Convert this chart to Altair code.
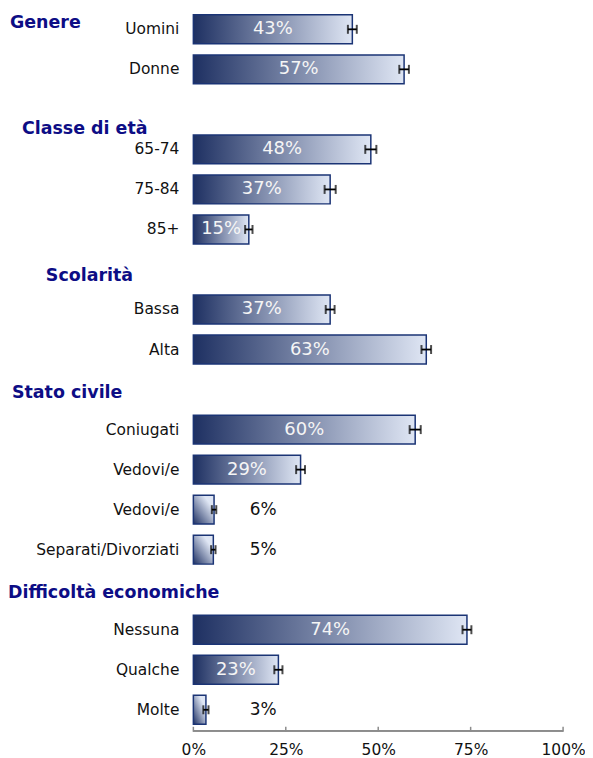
import altair as alt
import pandas as pd

# ---- data ----
groups = ["Genere", "Classe di età", "Scolarità", "Stato civile", "Difficoltà economiche"]
group_of = [0, 0, 1, 1, 1, 2, 2, 3, 3, 3, 3, 4, 4, 4]
categories = ["Uomini", "Donne", "65-74", "75-84", "85+", "Bassa", "Alta",
              "Coniugati", "Vedovi/e", "Vedovi/e", "Separati/Divorziati",
              "Nessuna", "Qualche", "Molte"]
values = [43, 57, 48, 37, 15, 37, 63, 60, 29, 5.6, 5.4, 74, 23, 3.4]
errors = [1.2, 1.3, 1.5, 1.5, 1.0, 1.2, 1.3, 1.5, 1.2, 0.6, 0.6, 1.2, 1.1, 0.7]
tick_values = [0, 25, 50, 75, 100]

# ---- layout / style ----
W, H = 371, 723
N_ROWS = 18
ROW_PX = H / N_ROWS
header_left_px = [10, 22, 46, 12, 8]      # page x of each header's left edge
header_nudge_px = [-6, 20, 7, 3, 3]       # vertical nudge of each header
PLOT_LEFT = 194
OUT_LABEL_X = 70                          # px from plot left for labels beside short bars
NAVY = "#0d0d85"
DARK = "#1e3062"
LIGHT = "#dfe6f4"
FONT = "DejaVu Sans"

# build row table
rows = []
header_rows = {}
r = 0
prev = None
for i, (g, c, v, e) in enumerate(zip(group_of, categories, values, errors)):
    if prev is not None and g != prev:
        r += 1
        header_rows[g] = r - 1
    if prev is None:
        header_rows[g] = 0
    rows.append(dict(row=r, cat=c, value=v, start=0, lo=v - e, hi=v + e,
                     mid=v / 2, label=f"{round(v)}%", inside=v >= 10))
    r += 1
    prev = g
df = pd.DataFrame(rows)

hdr = pd.DataFrame([
    dict(header=g,
         row=header_rows[i] + header_nudge_px[i] / ROW_PX,
         xpx=header_left_px[i] - PLOT_LEFT)
    for i, g in enumerate(groups)
])
ticks_df = pd.DataFrame({"t": tick_values})

xs = alt.Scale(domain=[0, 100], nice=False, padding=0, zero=False)
ys = alt.Scale(domain=[-0.5, N_ROWS - 0.5], reverse=True, nice=False, padding=0, zero=False)

base = alt.Chart(df)
Y = alt.Y("row:Q", scale=ys, axis=None)

grad_h = alt.LinearGradient(gradient="linear",
                            stops=[alt.GradientStop(color=DARK, offset=0),
                                   alt.GradientStop(color=LIGHT, offset=1)],
                            x1=0, x2=1, y1=0, y2=0)
grad_d = alt.LinearGradient(gradient="linear",
                            stops=[alt.GradientStop(color=DARK, offset=0),
                                   alt.GradientStop(color=LIGHT, offset=0.75)],
                            x1=0, x2=1, y1=1, y2=0)

bars_wide = base.transform_filter("datum.value >= 10").mark_bar(
    orient="horizontal", size=29, color=grad_h, stroke="#1b3475", strokeWidth=1.5
).encode(x=alt.X("start:Q", scale=xs,
                 axis=alt.Axis(values=tick_values, labelExpr="datum.value + '%'",
                               grid=False, domain=False, ticks=False, title=None,
                               labelFont=FONT, labelFontSize=15.5, labelColor="#111",
                               labelPadding=13, labelFlush=False)),
         x2="value:Q", y=Y)

bars_narrow = base.transform_filter("datum.value < 10").mark_bar(
    orient="horizontal", size=29, color=grad_d, stroke="#1b3475", strokeWidth=1.5
).encode(x=alt.X("start:Q", scale=xs), x2="value:Q", y=Y)

err_line = base.mark_rule(color="black", strokeWidth=1.8).encode(
    x=alt.X("lo:Q", scale=xs), x2="hi:Q", y=Y)
cap_lo = base.mark_tick(orient="vertical", size=9, thickness=2, color="black").encode(
    x=alt.X("lo:Q", scale=xs), y=Y)
cap_hi = base.mark_tick(orient="vertical", size=9, thickness=2, color="black").encode(
    x=alt.X("hi:Q", scale=xs), y=Y)

lab_in = base.transform_filter("datum.inside").mark_text(
    font=FONT, fontSize=18, color="#f5f5f5", align="center", baseline="middle"
).encode(x=alt.X("mid:Q", scale=xs), y=Y, text="label:N")

lab_out = base.transform_filter("!datum.inside").mark_text(
    font=FONT, fontSize=17, color="#111", align="center", baseline="middle"
).encode(x=alt.value(OUT_LABEL_X), y=Y, text="label:N")

cat_lab = base.mark_text(
    font=FONT, fontSize=15.5, color="#111", align="right", baseline="middle"
).encode(x=alt.value(-14), y=Y, text="cat:N")

hdr_lab = alt.Chart(hdr).mark_text(
    font=FONT, fontSize=17.5, fontWeight="bold", color=NAVY, align="left", baseline="middle"
).encode(x=alt.X("xpx:Q", scale=None), y=alt.Y("row:Q", scale=ys, axis=None), text="header:N")

axis_line = alt.Chart(ticks_df).mark_rule(color="#8c8c8c", strokeWidth=1.5).encode(
    x=alt.value(0), x2=alt.value(W), y=alt.value(H + 1))
axis_ticks = alt.Chart(ticks_df).mark_rule(color="#8c8c8c", strokeWidth=1.5).encode(
    x=alt.X("t:Q", scale=xs), y=alt.value(H - 3), y2=alt.value(H + 2))

chart = alt.layer(
    bars_wide, bars_narrow, err_line, cap_lo, cap_hi, lab_in, lab_out,
    cat_lab, hdr_lab, axis_line, axis_ticks
).properties(
    width=W, height=H,
    autosize=alt.AutoSizeParams(type="none"),
    padding={"left": 186, "top": 0, "right": 22, "bottom": 30},
).configure_view(stroke=None)

chart.save("out.html", embed_options={"renderer": "svg", "actions": False})
